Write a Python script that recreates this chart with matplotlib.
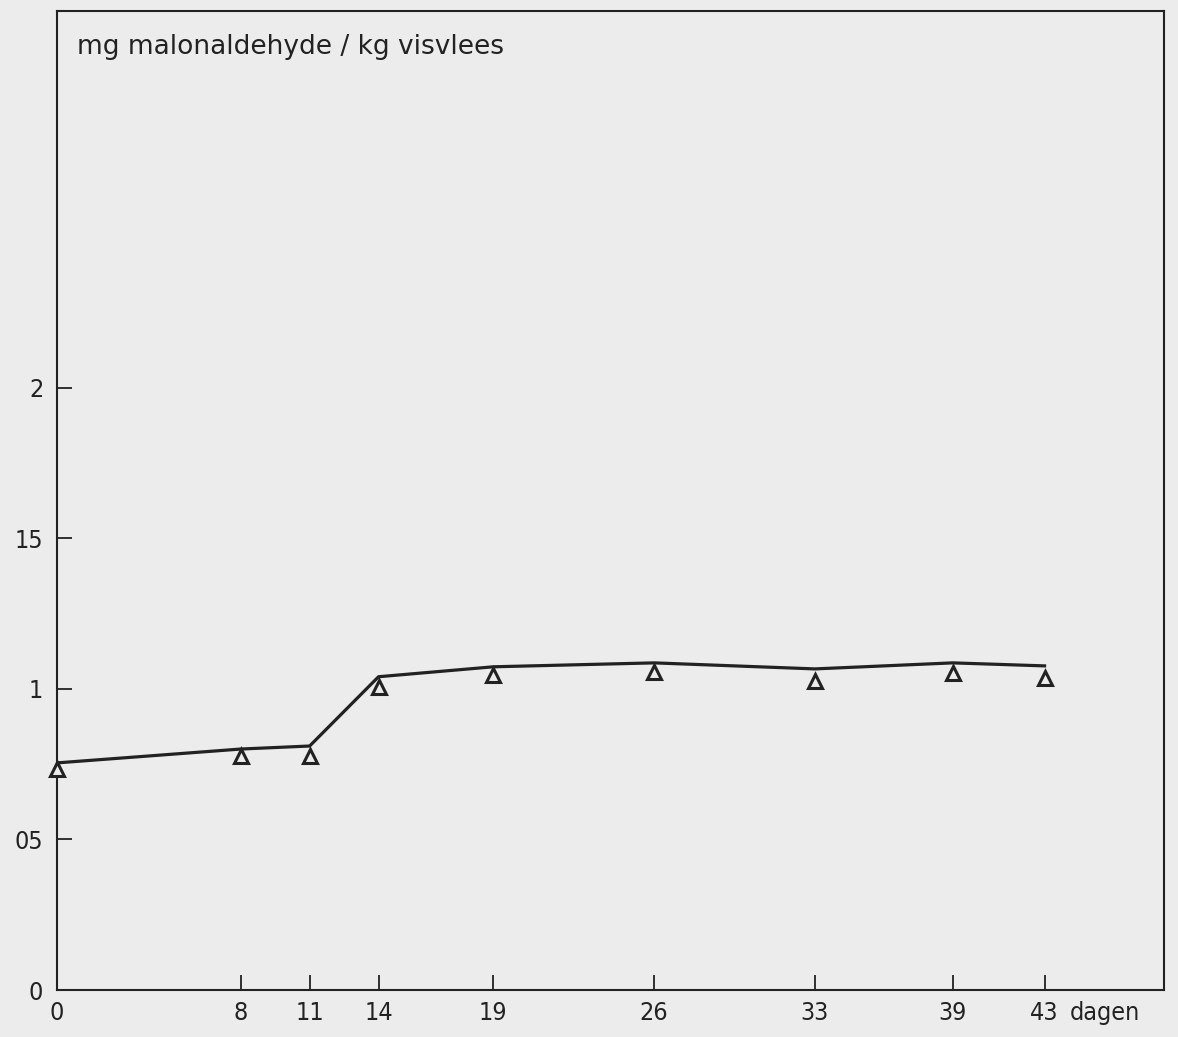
import matplotlib
matplotlib.use('Agg')
import matplotlib.pyplot as plt

# dagen bewaring
days = [0, 8, 11, 14, 19, 26, 33, 39, 43]
# getrokken lijn
curve = [0.754, 0.80, 0.81, 1.04, 1.073, 1.086, 1.066, 1.086, 1.076]
# meetpunten (driehoekjes)
measured = [0.735, 0.777, 0.777, 1.007, 1.047, 1.056, 1.027, 1.053, 1.036]
yticks = [0, 0.5, 1, 1.5, 2]
ytick_labels = ['0', '05', '1', '15', '2']
ylabel_text = 'mg malonaldehyde / kg visvlees'
xunit = 'dagen'

bg = '#ececec'
ink = '#222222'
plt.rcParams['font.family'] = ['DejaVu Sans']
plt.rcParams['font.stretch'] = 'condensed'

fig = plt.figure(figsize=(11.78, 10.37), dpi=100, facecolor=bg)
ax = fig.add_axes([0.0484, 0.0453, 0.9397, 0.9441], facecolor=bg)

ax.plot(days, curve, color=ink, lw=2.3, solid_joinstyle='round', zorder=2)
ax.plot(days, measured, '^', ms=9.5, mfc=bg, mec=ink, mew=2.2, lw=0, zorder=3,
        clip_on=False)

ax.set_xlim(0, 48.2)
ax.set_ylim(0, 3.25)
ax.set_xticks(days)
ax.set_xticklabels([str(d) for d in days])
ax.set_yticks(yticks)
ax.set_yticklabels(ytick_labels)
ax.tick_params(direction='in', length=11, width=1.3, color=ink, labelcolor=ink,
               labelsize=18)
ax.tick_params(axis='x', pad=8)
ax.tick_params(axis='y', pad=10)
for s in ax.spines.values():
    s.set_color(ink)
    s.set_linewidth(1.5)

ax.text(0.018, 0.976, ylabel_text, transform=ax.transAxes, ha='left', va='top',
        fontsize=19, color=ink, fontstretch='normal')
ax.annotate(xunit, xy=(days[-1], 0), xycoords='data', xytext=(18, -8),
            textcoords='offset points', ha='left', va='top', fontsize=18,
            color=ink, annotation_clip=False)

fig.savefig('out.png', dpi=100, facecolor=bg)
